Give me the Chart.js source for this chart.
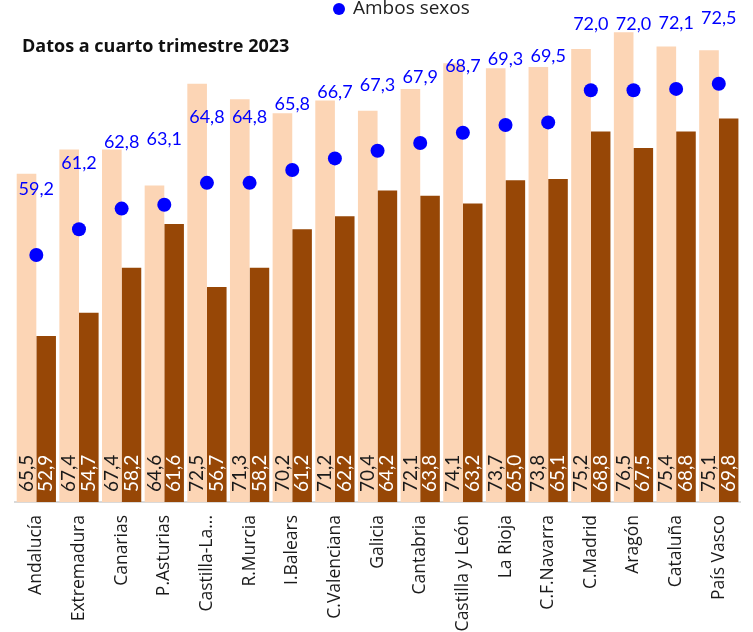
<!DOCTYPE html>
<html lang="es">
<head>
<meta charset="UTF-8">
<title>Tasa de actividad por comunidad autónoma</title>
<script src="https://cdn.jsdelivr.net/npm/chart.js"></script>
<style>
  html, body { margin: 0; padding: 0; background: #fff; }
</style>
</head>
<body>
<canvas id="grafico" width="753" height="632"></canvas>
<script>
// datos
const regiones = ['Andalucía', 'Extremadura', 'Canarias', 'P.Asturias', 'Castilla-La...', 'R.Murcia',
  'I.Balears', 'C.Valenciana', 'Galicia', 'Cantabria', 'Castilla y León', 'La Rioja',
  'C.F.Navarra', 'C.Madrid', 'Aragón', 'Cataluña', 'País Vasco'];
const hombres = [65.5, 67.4, 67.4, 64.6, 72.5, 71.3, 70.2, 71.2, 70.4, 72.1, 74.1, 73.7, 73.8, 75.2, 76.5, 75.4, 75.1];
const mujeres = [52.9, 54.7, 58.2, 61.6, 56.7, 58.2, 61.2, 62.2, 64.2, 63.8, 63.2, 65.0, 65.1, 68.8, 67.5, 68.8, 69.8];
const ambos = [59.2, 61.2, 62.8, 63.1, 64.8, 64.8, 65.8, 66.7, 67.3, 67.9, 68.7, 69.3, 69.5, 72.0, 72.0, 72.1, 72.5];
const titulo = 'Datos a cuarto trimestre 2023';

const coma = v => v.toFixed(1).replace('.', ',');

const etiquetas = {
  id: 'etiquetas',
  afterDatasetsDraw(chart) {
    const ctx = chart.ctx;
    const fondo = chart.chartArea.bottom;
    // valores dentro de las barras, en vertical
    [0, 1].forEach(i => {
      const meta = chart.getDatasetMeta(i);
      const datos = chart.data.datasets[i].data;
      meta.data.forEach((bar, j) => {
        ctx.save();
        ctx.fillStyle = i === 0 ? '#1a1a1a' : '#ffffff';
        ctx.font = '19px Lato';
        ctx.translate(bar.x, fondo - 10);
        ctx.rotate(-Math.PI / 2);
        ctx.textAlign = 'left';
        ctx.textBaseline = 'middle';
        ctx.fillText(coma(datos[j]), 0, 0);
        ctx.restore();
      });
    });
    // etiquetas azules de "Ambos sexos"
    const puntos = chart.getDatasetMeta(2).data;
    ctx.save();
    ctx.fillStyle = '#0000ff';
    ctx.font = '18px Lato';
    ctx.textAlign = 'center';
    ctx.textBaseline = 'middle';
    puntos.forEach((p, j) => {
      ctx.fillText(coma(ambos[j]), p.x, p.y - 66);
    });
    ctx.restore();
  },
  afterDraw(chart) {
    const ctx = chart.ctx;
    ctx.save();
    // título
    ctx.fillStyle = '#111';
    ctx.font = 'bold 18px "Open Sans"';
    ctx.textBaseline = 'middle';
    ctx.textAlign = 'left';
    ctx.fillText(titulo, 22, 47);
    // leyenda
    ctx.fillStyle = '#0000ff';
    ctx.beginPath();
    ctx.arc(339, 9, 6, 0, Math.PI * 2);
    ctx.fill();
    ctx.fillStyle = '#222';
    ctx.font = '19px "Open Sans"';
    ctx.fillText('Ambos sexos', 353, 9);
    ctx.restore();
  }
};

const ctx = document.getElementById('grafico').getContext('2d');
const grafico = new Chart(ctx, {
  type: 'bar',
  data: {
    labels: regiones,
    datasets: [
      {
        label: 'Hombres',
        data: hombres,
        backgroundColor: '#fcd5b5',
        categoryPercentage: 0.92,
        barPercentage: 1.0,
        order: 2
      },
      {
        label: 'Mujeres',
        data: mujeres,
        backgroundColor: '#974706',
        categoryPercentage: 0.92,
        barPercentage: 1.0,
        order: 2
      },
      {
        type: 'line',
        label: 'Ambos sexos',
        data: ambos,
        showLine: false,
        pointRadius: 7,
        pointBackgroundColor: '#0000ff',
        pointBorderWidth: 0,
        order: 1
      }
    ]
  },
  options: {
    responsive: false,
    animation: false,
    layout: { padding: { left: 15, right: 0, top: 13, bottom: 0 } },
    plugins: {
      legend: { display: false },
      tooltip: { enabled: false }
    },
    scales: {
      x: {
        grid: { display: false, drawTicks: false },
        border: { display: true, color: '#d9d9d9', width: 2 },
        ticks: {
          color: '#1a1a1a',
          font: { family: 'Open Sans', size: 17.5 },
          minRotation: 90,
          maxRotation: 90,
          autoSkip: false,
          padding: 13
        },
        afterFit(scale) { scale.height = 130; }
      },
      y: { display: false, min: 40, max: 78 }
    }
  },
  plugins: [etiquetas]
});
</script>
</body>
</html>
